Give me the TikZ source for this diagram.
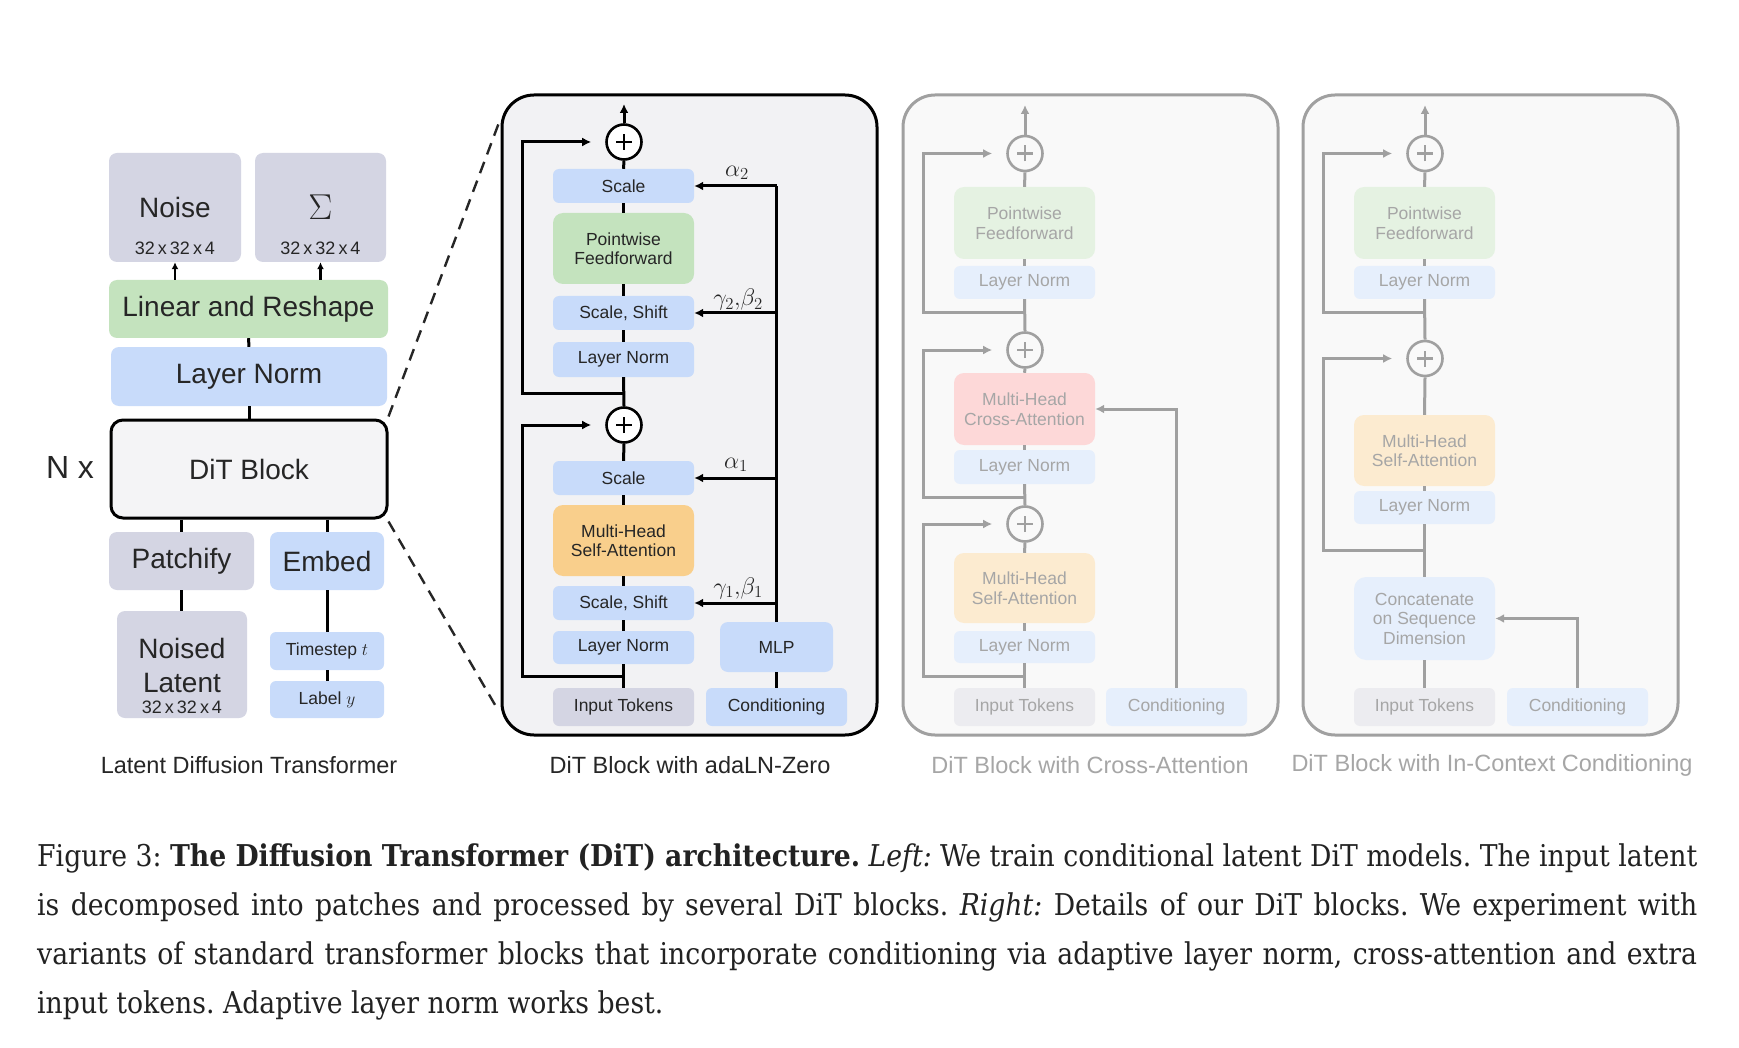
\RequirePackage{fix-cm}
\documentclass[tikz,border=0pt]{standalone}
\usepackage{fontspec}
\setmainfont{DejaVu Serif}[FakeStretch=0.89]
\setsansfont{Liberation Sans}
\usetikzlibrary{arrows.meta,calc}
\definecolor{cgray}{HTML}{D4D5E3}
\definecolor{cgreen}{HTML}{C4E3BE}
\definecolor{cblue}{HTML}{C8DBFA}
\definecolor{corange}{HTML}{F9CF8C}
\definecolor{cpanel}{HTML}{F2F2F4}
\definecolor{cdit}{HTML}{F4F4F6}
\definecolor{ctext}{HTML}{262626}
\definecolor{fgreen}{HTML}{E5F2E2}
\definecolor{fblue}{HTML}{E6EFFC}
\definecolor{fpink}{HTML}{FDD8D8}
\definecolor{forange}{HTML}{FCEBD0}
\definecolor{fgray}{HTML}{ECECF0}
\definecolor{fpanel}{HTML}{F9F9F9}
\definecolor{ftext}{HTML}{A6A6A6}
\definecolor{fline}{HTML}{A0A0A0}
\definecolor{capcol}{HTML}{222222}
\begin{document}
\begin{tikzpicture}[x=1pt,y=-1pt,
  every node/.style={font=\sffamily, text=ctext},
  bx/.style={rounded corners=6pt, inner sep=0pt, minimum width=141pt, align=center,
             font=\sffamily\fontsize{17.5}{19.5}\selectfont},
  big/.style={rounded corners=8pt, inner sep=0pt, align=center,
             font=\sffamily\fontsize{28}{34}\selectfont},
  lbl/.style={inner sep=0pt, align=center},
  ln/.style={line width=3pt, draw=black},
  arr/.style={line width=3pt, draw=black, -{Latex[length=9pt,width=9pt]}},
  fln/.style={line width=3pt, draw=fline},
  farr/.style={line width=3pt, draw=fline, -{Latex[length=9pt,width=9pt]}},
  plusnode/.style={circle, draw=black, line width=2.6pt, minimum size=35pt, inner sep=0pt, fill=white,
    path picture={\draw[line width=2.4pt] ([xshift=-8pt]path picture bounding box.center) -- ([xshift=8pt]path picture bounding box.center);
                  \draw[line width=2.4pt] ([yshift=-8pt]path picture bounding box.center) -- ([yshift=8pt]path picture bounding box.center);}},
  fplus/.style={circle, draw=fline, line width=2.6pt, minimum size=35pt, inner sep=0pt, fill=fpanel,
    path picture={\draw[line width=2.4pt, fline] ([xshift=-8pt]path picture bounding box.center) -- ([xshift=8pt]path picture bounding box.center);
                  \draw[line width=2.4pt, fline] ([yshift=-8pt]path picture bounding box.center) -- ([yshift=8pt]path picture bounding box.center);}},
  fbx/.style={bx, text=ftext},
  captxt/.style={inner sep=0pt, font=\sffamily\fontsize{23.5}{26}\selectfont},
  dsh/.style={line width=2.4pt, draw=black!85, dash pattern=on 12pt off 8pt}
]
\useasboundingbox (0,0) rectangle (1739,1048);
\fill[white] (0,0) rectangle (1739,1048);

% ================= Left panel =================
\node[big, fill=cgray, minimum width=132pt, minimum height=109pt] (noise) at (175,207.5) {};
\node[lbl, font=\sffamily\fontsize{28}{30}\selectfont] (noiset) at (175,207) {Noise};
\node[lbl, font=\sffamily\fontsize{18}{20}\selectfont] (noises) at (175,248) {32\,x\,32\,x\,4};
\node[big, fill=cgray, minimum width=131pt, minimum height=109pt] (sigma) at (320.5,207.5) {};
\node[lbl, font=\fontsize{36}{40}\selectfont] (sigmat) at (320.5,207) {$\Sigma$};
\node[lbl, font=\sffamily\fontsize{18}{20}\selectfont] (sigmas) at (320.5,248) {32\,x\,32\,x\,4};
\node[big, fill=cgreen, minimum width=279pt, minimum height=58pt] (linear) at (248.5,309) {Linear and Reshape};
\node[big, fill=cblue, minimum width=276pt, minimum height=59pt] (lnz) at (249,376.5) {Layer Norm};
\node[big, fill=cdit, draw=black, line width=3pt, rounded corners=12pt, minimum width=276pt, minimum height=98pt] (dit) at (249,469) {DiT Block};
\node[lbl, font=\sffamily\fontsize{32}{34}\selectfont] (nx) at (70,467) {N x};
\node[big, fill=cgray, minimum width=145pt, minimum height=58pt] (patch) at (181.5,561) {Patchify};
\node[big, fill=cblue, minimum width=114pt, minimum height=58pt] (embed) at (327,561) {Embed};
\node[big, fill=cgray, minimum width=130pt, minimum height=107pt] (noised) at (182,664.5) {};
\node[lbl, font=\sffamily\fontsize{28}{34}\selectfont] (noisedt) at (182,665) {Noised\\Latent};
\node[lbl, font=\sffamily\fontsize{18}{20}\selectfont] (noiseds) at (182,707) {32\,x\,32\,x\,4};
\node[bx, fill=cblue, minimum width=114pt, minimum height=38pt] (tstep) at (327,651) {Timestep $t$};
\node[bx, fill=cblue, minimum width=114pt, minimum height=37pt] (label) at (327,699.5) {Label $y$};
\node[captxt] (capa) at (249,765) {Latent Diffusion Transformer};

\draw[-{Latex[length=7pt,width=7pt]}, line width=2.4pt] (linear.north -| noise.south) -- (noise.south);
\draw[-{Latex[length=7pt,width=7pt]}, line width=2.4pt] (linear.north -| sigma.south) -- (sigma.south);
\draw[ln] (linear.south) -- (lnz.north);
\draw[ln] (lnz.south) -- (dit.north);
\draw[ln] (dit.south -| patch.north) -- (patch.north);
\draw[ln] (dit.south -| embed.north) -- (embed.north);
\draw[ln] (patch.south) -- (patch.south |- noised.north);
\draw[ln] (embed.south) -- (tstep.north);
\draw[ln] (tstep.south) -- (label.north);

% ================= adaLN-Zero panel =================
\node[draw=black, line width=3pt, fill=cpanel, rounded corners=32pt, minimum width=375pt, minimum height=640pt, inner sep=0pt] (pa) at (689.5,415) {};
\node[bx, fill=cblue, minimum height=34pt] (asc2) at (623.5,186) {Scale};
\node[bx, fill=cgreen, minimum height=71pt, rounded corners=10pt] (apf) at (623.5,248.5) {Pointwise\\Feedforward};
\node[bx, fill=cblue, minimum height=34pt] (ass2) at (623.5,313) {Scale, Shift};
\node[bx, fill=cblue, minimum height=35pt] (aln2) at (623.5,359.5) {Layer Norm};
\node[bx, fill=cblue, minimum height=34pt] (asc1) at (623.5,478) {Scale};
\node[bx, fill=corange, minimum height=71pt, rounded corners=10pt] (amh) at (623.5,540.5) {Multi-Head\\Self-Attention};
\node[bx, fill=cblue, minimum height=34pt] (ass1) at (623.5,603) {Scale, Shift};
\node[bx, fill=cblue, minimum height=33pt] (aln1) at (623.5,647.5) {Layer Norm};
\node[bx, fill=cgray, minimum height=38pt] (ain) at (623.5,707) {Input Tokens};
\node[bx, fill=cblue, minimum height=38pt] (acond) at (776.5,707) {Conditioning};
\node[bx, fill=cblue, minimum width=113pt, minimum height=50pt, rounded corners=8pt] (amlp) at (776.5,647) {MLP};
\node[plusnode] (ap1) at (624,142) {};
\node[plusnode] (ap2) at (624,425) {};
\node[lbl, font=\fontsize{24}{26}\selectfont] (la2) at (737,173) {$\alpha_2$};
\node[lbl, font=\fontsize{24}{26}\selectfont] (lgb2) at (738,300) {$\gamma_2,\!\beta_2$};
\node[lbl, font=\fontsize{24}{26}\selectfont] (la1) at (736,465) {$\alpha_1$};
\node[lbl, font=\fontsize{24}{26}\selectfont] (lgb1) at (738,588) {$\gamma_1,\!\beta_1$};
\node[captxt] (capb) at (690,765) {DiT Block with adaLN-Zero};

\coordinate (aout) at (624,104);
\coordinate (aj2) at (624,393);
\coordinate (ak2) at (522,393);
\coordinate (aj1) at (624,676);
\coordinate (ak1) at (522,676);
\draw[arr] (ap1.north) -- (aout);
\draw[ln] (ap1.south) -- (asc2.north);
\draw[ln] (asc2.south) -- (apf.north);
\draw[ln] (apf.south) -- (ass2.north);
\draw[ln] (ass2.south) -- (aln2.north);
\draw[ln] (aln2.south) -- (ap2.north);
\draw[ln] (ap2.south) -- (asc1.north);
\draw[ln] (asc1.south) -- (amh.north);
\draw[ln] (amh.south) -- (ass1.north);
\draw[ln] (ass1.south) -- (aln1.north);
\draw[ln] (aln1.south) -- (ain.north);
\draw[arr, shorten >=14pt] (aj2) -- (ak2) |- (ap1.west);
\draw[arr, shorten >=14pt] (aj1) -- (ak1) |- (ap2.west);
\draw[ln] (acond.north) -- (amlp.south);
\draw[ln] (amlp.north) -- (amlp.north |- asc2.east);
\draw[arr] (amlp.north |- asc2.east) -- (asc2.east);
\draw[arr] (amlp.north |- ass2.east) -- (ass2.east);
\draw[arr] (amlp.north |- asc1.east) -- (asc1.east);
\draw[arr] (amlp.north |- ass1.east) -- (ass1.east);

% dashed zoom lines
\coordinate (dz1) at (500,120);
\coordinate (dz2) at (498,710);
\draw[dsh] ([yshift=2pt]dit.north east) -- (dz1);
\draw[dsh] ([yshift=-2pt]dit.south east) -- (dz2);

% ================= Cross-Attention panel =================
\node[draw=fline, line width=3pt, fill=fpanel, rounded corners=32pt, minimum width=375pt, minimum height=640pt, inner sep=0pt] (pb) at (1090.5,415) {};
\node[fbx, fill=fgreen, minimum height=72pt, rounded corners=10pt] (bpf) at (1024.5,223) {Pointwise\\Feedforward};
\node[fbx, fill=fblue, minimum height=33pt] (bln3) at (1024.5,282.5) {Layer Norm};
\node[fbx, fill=fpink, minimum height=72pt, rounded corners=10pt] (bca) at (1024.5,409) {Multi-Head\\Cross-Attention};
\node[fbx, fill=fblue, minimum height=34pt] (bln2) at (1024.5,467) {Layer Norm};
\node[fbx, fill=forange, minimum height=70pt, rounded corners=10pt] (bmh) at (1024.5,588) {Multi-Head\\Self-Attention};
\node[fbx, fill=fblue, minimum height=32pt] (bln1) at (1024.5,647) {Layer Norm};
\node[fbx, fill=fgray, minimum height=38pt] (bin) at (1024.5,707) {Input Tokens};
\node[fbx, fill=fblue, minimum height=38pt] (bcond) at (1176.5,707) {Conditioning};
\node[fplus] (bp1) at (1025,153.5) {};
\node[fplus] (bp2) at (1025,350) {};
\node[fplus] (bp3) at (1025,524) {};
\node[captxt, text=ftext] (capc) at (1090,765) {DiT Block with Cross-Attention};

\coordinate (bout) at (1025,105);
\coordinate (bj3) at (1025,313);
\coordinate (bk3) at (923,313);
\coordinate (bj2) at (1025,497.5);
\coordinate (bk2) at (923,497.5);
\coordinate (bj1) at (1025,676);
\coordinate (bk1) at (923,676);
\draw[farr] (bp1.north) -- (bout);
\draw[fln] (bp1.south) -- (bpf.north);
\draw[fln] (bpf.south) -- (bln3.north);
\draw[fln] (bln3.south) -- (bp2.north);
\draw[fln] (bp2.south) -- (bca.north);
\draw[fln] (bca.south) -- (bln2.north);
\draw[fln] (bln2.south) -- (bp3.north);
\draw[fln] (bp3.south) -- (bmh.north);
\draw[fln] (bmh.south) -- (bln1.north);
\draw[fln] (bln1.south) -- (bin.north);
\draw[farr, shorten >=14pt] (bj3) -- (bk3) |- (bp1.west);
\draw[farr, shorten >=14pt] (bj2) -- (bk2) |- (bp2.west);
\draw[farr, shorten >=14pt] (bj1) -- (bk1) |- (bp3.west);
\draw[farr] (bcond.north) |- (bca.east);

% ================= In-Context panel =================
\node[draw=fline, line width=3pt, fill=fpanel, rounded corners=32pt, minimum width=375pt, minimum height=640pt, inner sep=0pt] (pc) at (1490.5,415) {};
\node[fbx, fill=fgreen, minimum height=72pt, rounded corners=10pt] (cpf) at (1424.5,223) {Pointwise\\Feedforward};
\node[fbx, fill=fblue, minimum height=33pt] (cln2) at (1424.5,282.5) {Layer Norm};
\node[fbx, fill=forange, minimum height=71pt, rounded corners=10pt] (cmh) at (1424.5,450.5) {Multi-Head\\Self-Attention};
\node[fbx, fill=fblue, minimum height=33pt] (cln1) at (1424.5,507.5) {Layer Norm};
\node[fbx, fill=fblue, minimum height=83pt, rounded corners=12pt] (ccat) at (1424.5,618.5) {Concatenate\\on Sequence\\Dimension};
\node[fbx, fill=fgray, minimum height=38pt] (cin) at (1424.5,707) {Input Tokens};
\node[fbx, fill=fblue, minimum height=38pt] (ccond) at (1577.5,707) {Conditioning};
\node[fplus] (cp1) at (1425,153.5) {};
\node[fplus] (cp2) at (1425,358.5) {};
\node[captxt, text=ftext] (capd) at (1492,765) {DiT Block with In-Context Conditioning};

\coordinate (cout) at (1425,105);
\coordinate (cj2) at (1425,313);
\coordinate (ck2) at (1323,313);
\coordinate (cj1) at (1425,550);
\coordinate (ck1) at (1323,550);
\draw[farr] (cp1.north) -- (cout);
\draw[fln] (cp1.south) -- (cpf.north);
\draw[fln] (cpf.south) -- (cln2.north);
\draw[fln] (cln2.south) -- (cp2.north);
\draw[fln] (cp2.south) -- (cmh.north);
\draw[fln] (cmh.south) -- (cln1.north);
\draw[fln] (cln1.south) -- (ccat.north);
\draw[fln] (ccat.south) -- (cin.north);
\draw[farr, shorten >=14pt] (cj2) -- (ck2) |- (cp1.west);
\draw[farr, shorten >=14pt] (cj1) -- (ck1) |- (cp2.west);
\draw[farr] (ccond.north) |- (ccat.east);

% ================= Caption =================
\node[anchor=base west, inner sep=0pt, text=capcol, font=\rmfamily\fontsize{30}{49}\selectfont] (caption) at (37,866)
{\parbox[t]{1660pt}{\frenchspacing%
\makebox[1660pt][s]{Figure 3: \textbf{The Diffusion Transformer (DiT) architecture.} \textit{Left:} We train conditional latent DiT models. The input latent}\\
\makebox[1660pt][s]{is decomposed into patches and processed by several DiT blocks. \textit{Right:} Details of our DiT blocks. We experiment with}\\
\makebox[1660pt][s]{variants of standard transformer blocks that incorporate conditioning via adaptive layer norm, cross-attention and extra}\\
input tokens. Adaptive layer norm works best.}};
\end{tikzpicture}
\end{document}
